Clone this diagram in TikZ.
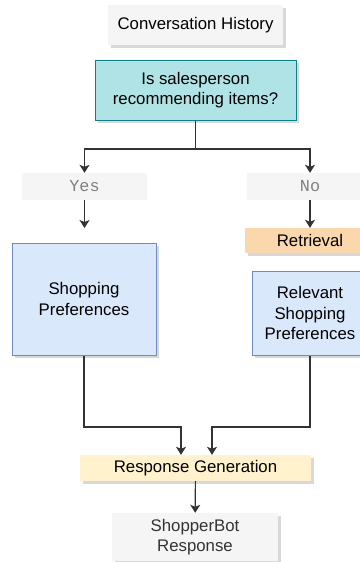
\documentclass[tikz,border=0pt]{standalone}
\usepackage{fontspec}
\setmainfont{Liberation Sans}
\newfontfamily\monofont{Liberation Mono}
\usetikzlibrary{arrows.meta, shadows}

\definecolor{boxgray}{HTML}{F5F5F5}
\definecolor{tealfill}{HTML}{B0E3E6}
\definecolor{tealline}{HTML}{0E8088}
\definecolor{bluefill}{HTML}{DAE8FC}
\definecolor{blueline}{HTML}{6C8EBF}
\definecolor{orangefill}{HTML}{FAD7AC}
\definecolor{yellowfill}{HTML}{FFF2CC}
\definecolor{linegray}{HTML}{333333}

\begin{document}
\begin{tikzpicture}[x=1pt, y=-1pt,
    font=\fontsize{16.8}{20.5}\selectfont,
    every node/.style={inner sep=0pt, align=center},
    shade box/.style={drop shadow={shadow xshift=3pt, shadow yshift=-3pt, fill=black!30}},
    flow/.style={-{Stealth[length=8pt, width=10pt, inset=2pt]}, line width=1.2pt, color=linegray}]
    \useasboundingbox [fill=white] (0,0) rectangle (359,562);

    % boxes
    \node (hist) at (195.5,25) [shade box, fill=boxgray, minimum width=175pt, minimum height=40pt] {Conversation History};
    \node (dec) at (195.5,90) [shade box, fill=tealfill, draw=tealline, line width=1pt, minimum width=201pt, minimum height=60pt] {Is salesperson\\recommending items?};
    \node (yes) at (84.5,186.5) [fill=boxgray, text=black!50, minimum width=125pt, minimum height=27pt] {\monofont Yes};
    \node (no) at (310,186.5) [fill=boxgray, text=black!50, minimum width=126pt, minimum height=27pt] {\monofont No};
    \node (retr) at (310,240.5) [shade box, fill=orangefill, minimum width=130pt, minimum height=25pt] {Retrieval};
    \node (shop) at (84,299) [shade box, fill=bluefill, draw=blueline, line width=1pt, minimum width=144pt, minimum height=112pt] {Shopping\\Preferences};
    \node (rel) at (310,313) [shade box, fill=bluefill, draw=blueline, line width=1pt, minimum width=116pt, minimum height=84pt] {Relevant\\Shopping\\Preferences};
    \node (gen) at (195.5,468) [shade box, fill=yellowfill, minimum width=231pt, minimum height=26pt] {Response Generation};
    \node (bot) at (195,537) [shade box, fill=boxgray, text=black!80, minimum width=166pt, minimum height=48pt] {ShopperBot\\Response};

    % connectors
    \coordinate (split) at (195.5,149);
    \coordinate (yesend) at (84.5,228);
    \coordinate (joinl) at (181,427);
    \coordinate (joinr) at (212,427);
    \draw [line width=1.2pt, color=linegray] (dec.south) -- (split);
    \draw [flow] (split) -| (yes.north);
    \draw [flow] (split) -| (no.north);
    \draw [flow] (yes) -- (yesend);
    \draw [flow] (no) -- (retr);
    \draw [flow] (shop.south) |- (joinl) -- (joinl |- gen.north);
    \draw [flow] (rel.south) |- (joinr) -- (joinr |- gen.north);
    \draw [flow] (gen) -- (bot);
\end{tikzpicture}
\end{document}
